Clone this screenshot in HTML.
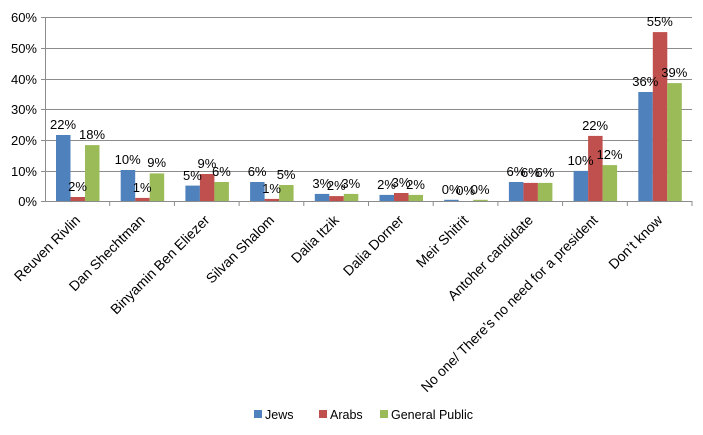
<!DOCTYPE html>
<html><head><meta charset="utf-8"><style>
html,body{margin:0;padding:0;background:#fff}
svg{display:block;font-family:"Liberation Sans",Arial,sans-serif}
</style></head><body>
<svg width="703" height="435" viewBox="0 0 703 435">
<g stroke="#8c8c8c" stroke-width="1">
<line x1="45" y1="17.5" x2="692" y2="17.5"/>
<line x1="45" y1="48.5" x2="692" y2="48.5"/>
<line x1="45" y1="79.5" x2="692" y2="79.5"/>
<line x1="45" y1="109.5" x2="692" y2="109.5"/>
<line x1="45" y1="140.5" x2="692" y2="140.5"/>
<line x1="45" y1="171.5" x2="692" y2="171.5"/>
<line x1="45.5" y1="17" x2="45.5" y2="202"/>
<line x1="41" y1="17.5" x2="45" y2="17.5"/><line x1="41" y1="48.5" x2="45" y2="48.5"/><line x1="41" y1="79.5" x2="45" y2="79.5"/><line x1="41" y1="109.5" x2="45" y2="109.5"/><line x1="41" y1="140.5" x2="45" y2="140.5"/><line x1="41" y1="171.5" x2="45" y2="171.5"/><line x1="41" y1="201.5" x2="45" y2="201.5"/>
</g>
<g font-size="13" fill="#000" text-anchor="end">
<text x="37" y="22">60%</text><text x="37" y="53">50%</text><text x="37" y="84">40%</text><text x="37" y="114">30%</text><text x="37" y="145">20%</text><text x="37" y="176">10%</text><text x="37" y="206">0%</text>
</g>
<g>
<rect x="56" y="135" width="14.5" height="66" fill="#4f81bd"/><rect x="70.5" y="197" width="14.5" height="4" fill="#c0504d"/><rect x="85" y="145.1" width="14.5" height="55.9" fill="#9bbb59"/>
<rect x="120.7" y="170" width="14.5" height="31" fill="#4f81bd"/><rect x="135.2" y="197.9" width="14.5" height="3.1" fill="#c0504d"/><rect x="149.7" y="173.4" width="14.5" height="27.6" fill="#9bbb59"/>
<rect x="185.4" y="185.6" width="14.5" height="15.4" fill="#4f81bd"/><rect x="199.9" y="174" width="14.5" height="27" fill="#c0504d"/><rect x="214.4" y="182" width="14.5" height="19" fill="#9bbb59"/>
<rect x="250.1" y="182" width="14.5" height="19" fill="#4f81bd"/><rect x="264.6" y="198.9" width="14.5" height="2.1" fill="#c0504d"/><rect x="279.1" y="185" width="14.5" height="16" fill="#9bbb59"/>
<rect x="314.8" y="193.9" width="14.5" height="7.1" fill="#4f81bd"/><rect x="329.3" y="196.1" width="14.5" height="4.9" fill="#c0504d"/><rect x="343.8" y="193.9" width="14.5" height="7.1" fill="#9bbb59"/>
<rect x="379.5" y="194.9" width="14.5" height="6.1" fill="#4f81bd"/><rect x="394" y="193" width="14.5" height="8" fill="#c0504d"/><rect x="408.5" y="194.9" width="14.5" height="6.1" fill="#9bbb59"/>
<rect x="444.2" y="199.8" width="14.5" height="1.2" fill="#4f81bd"/><rect x="473.2" y="199.8" width="14.5" height="1.2" fill="#9bbb59"/>
<rect x="508.9" y="182" width="14.5" height="19" fill="#4f81bd"/><rect x="523.4" y="182.9" width="14.5" height="18.1" fill="#c0504d"/><rect x="537.9" y="182.9" width="14.5" height="18.1" fill="#9bbb59"/>
<rect x="573.6" y="170.9" width="14.5" height="30.1" fill="#4f81bd"/><rect x="588.1" y="135.9" width="14.5" height="65.1" fill="#c0504d"/><rect x="602.6" y="165.1" width="14.5" height="35.9" fill="#9bbb59"/>
<rect x="638.3" y="92" width="14.5" height="109" fill="#4f81bd"/><rect x="652.8" y="32.1" width="14.5" height="168.9" fill="#c0504d"/><rect x="667.3" y="83.1" width="14.5" height="117.9" fill="#9bbb59"/>
</g>
<line x1="45" y1="201.5" x2="692" y2="201.5" stroke="#8c8c8c"/>
<g stroke="#8c8c8c">
<line x1="109.7" y1="201" x2="109.7" y2="206"/><line x1="174.4" y1="201" x2="174.4" y2="206"/><line x1="239.1" y1="201" x2="239.1" y2="206"/><line x1="303.8" y1="201" x2="303.8" y2="206"/><line x1="368.5" y1="201" x2="368.5" y2="206"/><line x1="433.2" y1="201" x2="433.2" y2="206"/><line x1="497.9" y1="201" x2="497.9" y2="206"/><line x1="562.6" y1="201" x2="562.6" y2="206"/><line x1="627.3" y1="201" x2="627.3" y2="206"/><line x1="692" y1="201" x2="692" y2="206"/>
</g>
<g font-size="13" text-anchor="middle">
<text x="63" y="129">22%</text><text x="77.5" y="191">2%</text><text x="92" y="139">18%</text>
<text x="127.7" y="164">10%</text><text x="142.2" y="192">1%</text><text x="156.7" y="167">9%</text>
<text x="192.4" y="180">5%</text><text x="206.9" y="168">9%</text><text x="221.4" y="176">6%</text>
<text x="257.1" y="176">6%</text><text x="271.6" y="193">1%</text><text x="286.1" y="179">5%</text>
<text x="321.8" y="188">3%</text><text x="336.3" y="190">2%</text><text x="350.8" y="188">3%</text>
<text x="386.5" y="189">2%</text><text x="401" y="187">3%</text><text x="415.5" y="189">2%</text>
<text x="451.2" y="194">0%</text><text x="465.7" y="195">0%</text><text x="480.2" y="194">0%</text>
<text x="515.9" y="176">6%</text><text x="530.4" y="177">6%</text><text x="544.9" y="177">6%</text>
<text x="580.6" y="165">10%</text><text x="595.1" y="130">22%</text><text x="609.6" y="159">12%</text>
<text x="645.3" y="86">36%</text><text x="659.8" y="26">55%</text><text x="674.3" y="77">39%</text>
</g>
<g font-size="14" text-anchor="end">
<text x="81" y="221" transform="rotate(-45 81 221)">Reuven Rivlin</text>
<text x="145.7" y="221" transform="rotate(-45 145.7 221)">Dan Shechtman</text>
<text x="210.4" y="221" transform="rotate(-45 210.4 221)">Binyamin Ben Eliezer</text>
<text x="275.1" y="221" transform="rotate(-45 275.1 221)">Silvan Shalom</text>
<text x="339.8" y="221" transform="rotate(-45 339.8 221)">Dalia Itzik</text>
<text x="404.5" y="221" transform="rotate(-45 404.5 221)">Dalia Dorner</text>
<text x="469.2" y="221" transform="rotate(-45 469.2 221)">Meir Shitrit</text>
<text x="533.9" y="221" transform="rotate(-45 533.9 221)">Antoher candidate</text>
<text x="598.6" y="221" transform="rotate(-45 598.6 221)" textLength="243" lengthAdjust="spacingAndGlyphs">No one/ There’s no need for a president</text>
<text x="663.3" y="221" transform="rotate(-45 663.3 221)">Don’t know</text>
</g>
<g font-size="12.5">
<rect x="254" y="410" width="8" height="8" fill="#4f81bd"/><text x="265" y="419">Jews</text>
<rect x="319" y="410" width="8" height="8" fill="#c0504d"/><text x="330" y="419">Arabs</text>
<rect x="380" y="410" width="8" height="8" fill="#9bbb59"/><text x="391" y="419">General Public</text>
</g>
</svg>
</body></html>
